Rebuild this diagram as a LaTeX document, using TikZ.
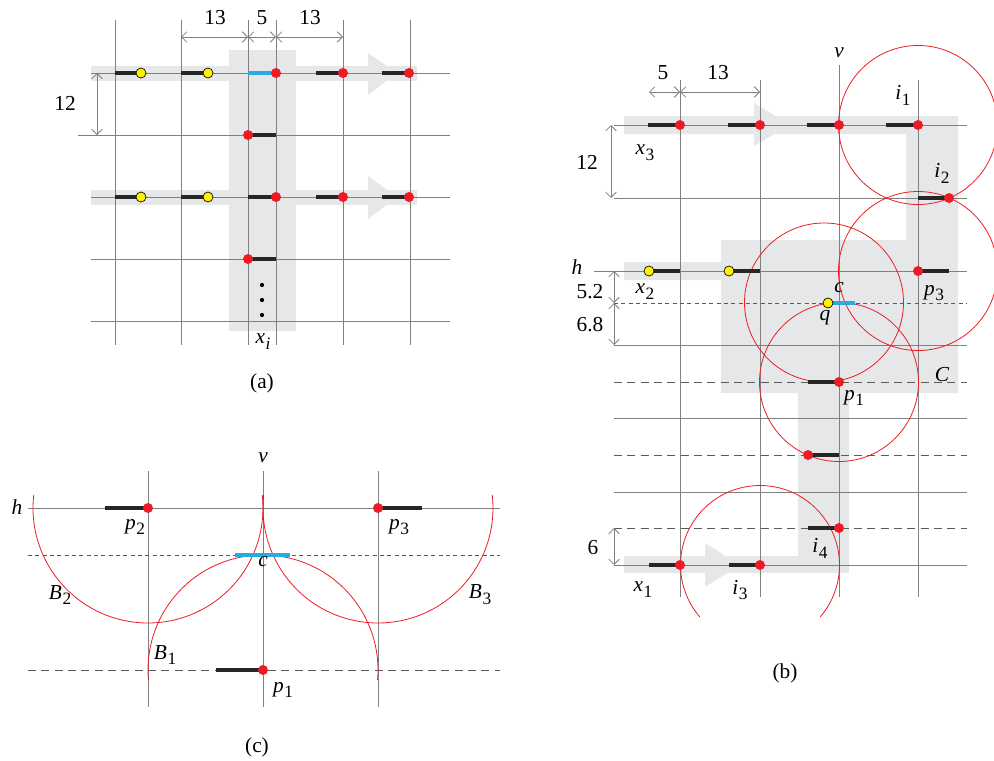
\documentclass[tikz,border=0pt]{standalone}
\usepackage{fontspec}
\setmainfont{Liberation Serif}
\usepackage{xcolor}
\usepackage{tikz}
\usetikzlibrary{arrows.meta}
\definecolor{gridgray}{RGB}{128,128,128}
\definecolor{bandgray}{RGB}{230,231,232}
\definecolor{dotred}{RGB}{237,28,36}
\definecolor{dotyellow}{RGB}{255,242,0}
\definecolor{segblue}{RGB}{41,171,226}
\newcommand{\lbsub}[2]{\textit{#1}\kern0.5pt\raisebox{-0.6ex}{\fontsize{13}{13}\selectfont #2}}

\begin{document}
\begin{tikzpicture}[x=0.75pt,y=0.75pt,yscale=-1,font=\fontsize{16}{19}\selectfont]
\tikzset{grid/.style={draw=gridgray,line width=0.75pt},
 seg/.style={line width=3pt,black!85},
 bseg/.style={line width=3pt,segblue},
 rdot/.style={circle,fill=dotred,inner sep=0pt,minimum size=7.5pt},
 ydot/.style={circle,draw=black,line width=0.5pt,fill=dotyellow,inner sep=0pt,minimum size=7.5pt},
 dim/.style={draw=gridgray,line width=0.6pt,{Straight Barb[length=4pt,width=8pt]}-{Straight Barb[length=4pt,width=8pt]}},
 ring/.style={draw=dotred,line width=0.6pt},
 fine/.style={draw=gridgray!70!black,line width=0.6pt,dash pattern=on 3pt off 2.5pt},
 broken/.style={draw=gridgray!70!black,line width=0.6pt,dash pattern=on 6pt off 4pt}}
\useasboundingbox (0,0) rectangle (994,760);

% ---- (a)
\fill[bandgray] (229,50) rectangle (296,331);
\fill[bandgray] (91,66) rectangle (417,81);
\fill[bandgray] (368,53) -- (397,73) -- (368,95) -- cycle;
\fill[bandgray] (91,190) rectangle (417,205);
\fill[bandgray] (368,176) -- (397,197) -- (368,219) -- cycle;
\foreach \x in {115,181,248,276,343,410} \draw[grid] (\x,20) -- (\x,345);
\foreach \y in {73,197,259,321} \draw[grid] (91,\y) -- (450,\y);
\draw[grid] (78,135) -- (450,135);
\foreach \y in {73,197} {
  \draw[seg] (115,\y) -- (141,\y) (181,\y) -- (208,\y) (316,\y) -- (343,\y) (382,\y) -- (409,\y);
  \node[ydot] (ay1\y) at (141,\y) {};
  \node[ydot] (ay2\y) at (208,\y) {};
  \node[rdot] (ar1\y) at (343,\y) {};
  \node[rdot] (ar2\y) at (409,\y) {};
}
\draw[bseg] (248,73) -- (276,73);
\draw[seg] (248,197) -- (276,197) (248,135) -- (276,135) (248,259) -- (276,259);
\node[rdot] (ar0) at (276,73) {};
\node[rdot] (ar3) at (276,197) {};
\node[rdot] (ar4) at (248,135) {};
\node[rdot] (ar5) at (248,259) {};
\foreach \y in {285,300,315} \fill[black] (262,\y) circle (1.6pt);
\draw[dim] (181,37) -- (248,37);
\draw[dim] (248,37) -- (276,37);
\draw[dim] (276,37) -- (343,37);
\draw[dim] (97,73) -- (97,135);
\node (ad1) at (215,18) {13};
\node (ad2) at (262,18) {5};
\node (ad3) at (310,18) {13};
\node (ad4) at (65,103) {12};
\node (axi) at (263,342) {\lbsub{x}{\textit{i}}};
\node (acap) at (262,383) {(a)};

% ---- (b)
\fill[bandgray] (624,116) rectangle (958,134) (906,116) rectangle (958,240)
  (721,240) rectangle (958,393) (624,262) rectangle (721,280)
  (798,393) rectangle (849,573) (624,556) rectangle (849,573);
\fill[bandgray] (754,103) -- (790,125) -- (754,146) -- cycle;
\fill[bandgray] (705,543) -- (740,565) -- (705,587) -- cycle;
\foreach \x in {680,760,918} \draw[grid] (\x,80) -- (\x,597);
\draw[grid] (839,65) -- (839,597);
\foreach \y in {125,198,345,418,492,565} \draw[grid] (614,\y) -- (967,\y);
\draw[grid] (594,271) -- (967,271);
\draw[fine] (614,303) -- (967,303);
\foreach \y in {382,455,528} \draw[broken] (614,\y) -- (967,\y);
\draw[ring] (918,125) circle (79.5);
\draw[ring] (918,271) circle (79.5);
\draw[ring] (824,302.5) circle (79.5);
\draw[ring] (839,382) circle (79.5);
\draw[ring] (760,565) ++(139.15:79.5) arc[start angle=139.15,end angle=400.85,radius=79.5];
\foreach \x in {680,760,839,918} {
  \draw[seg] (\x-32,125) -- (\x,125);
  \node[rdot] (bt\x) at (\x,125) {};
}
\draw[seg] (918,198) -- (949,198) (649,271) -- (680,271) (729,271) -- (760,271) (918,271) -- (949,271);
\draw[seg] (808,382) -- (839,382) (808,455) -- (839,455) (808,528) -- (839,528);
\draw[seg] (649,565) -- (680,565) (729,565) -- (760,565);
\draw[bseg] (829,303) -- (855,303);
\node[rdot] (bi2) at (949,198) {};
\node[ydot] (bx2) at (649,271) {};
\node[ydot] (by2) at (729,271) {};
\node[rdot] (bp3) at (918,271) {};
\node[ydot] (bq) at (828,303) {};
\node[rdot] (bp1) at (839,382) {};
\node[rdot] (bm) at (808,455) {};
\node[rdot] (bi4) at (839,528) {};
\node[rdot] (bx1) at (680,565) {};
\node[rdot] (bi3) at (760,565) {};
\draw[dim] (649,92) -- (680,92);
\draw[dim] (680,92) -- (760,92);
\draw[dim] (611,125) -- (611,198);
\draw[dim] (614,271) -- (614,303);
\draw[dim] (614,303) -- (614,345);
\draw[dim] (614,528) -- (614,565);
\node (bv) at (839,53) {\textit{v}};
\node (bd1) at (663,73) {5};
\node (bd2) at (718,73) {13};
\node (bd3) at (587,162) {12};
\node (bd4) at (590,292) {5.2};
\node (bd5) at (590,325) {6.8};
\node (bd6) at (593,548) {6};
\node (bli1) at (903,95) {\lbsub{i}{1}};
\node (blx3) at (645,153) {\lbsub{x}{3}};
\node (bli2) at (942,173) {\lbsub{i}{2}};
\node (bh) at (577,267) {\textit{h}};
\node (blx2) at (645,292) {\lbsub{x}{2}};
\node (bc) at (839,288) {\textit{c}};
\node (blq) at (825,318) {\textit{q}};
\node (blp3) at (934,293) {\lbsub{p}{3}};
\node (bC) at (942,375) {\textit{C}};
\node (blp1) at (854,398) {\lbsub{p}{1}};
\node (bli4) at (820,548) {\lbsub{i}{4}};
\node (blx1) at (643,590) {\lbsub{x}{1}};
\node (bli3) at (740,590) {\lbsub{i}{3}};
\node (bcap) at (785,673) {(b)};

% ---- (c)
\foreach \x in {148,263,378} \draw[grid] (\x,471) -- (\x,707);
\draw[grid] (28,508) -- (500,508);
\draw[fine] (28,555) -- (500,555);
\draw[broken] (28,670) -- (500,670);
\draw[ring] (148,508) ++(186.5:115) arc[start angle=186.5,end angle=-6.5,radius=115];
\draw[ring] (378,508) ++(186.5:115) arc[start angle=186.5,end angle=-6.5,radius=115];
\draw[ring] (263,670) ++(175:115) arc[start angle=175,end angle=365,radius=115];
\draw[bseg] (235,555) -- (290,555);
\draw[seg] (105,508) -- (148,508) (378,508) -- (422,508) (216,670) -- (263,670);
\node[rdot] (cp2) at (148,508) {};
\node[rdot] (cp3) at (378,508) {};
\node[rdot] (cp1) at (263,670) {};
\node (cv) at (263,458) {\textit{v}};
\node (ch) at (17,507) {\textit{h}};
\node (clp2) at (135,527) {\lbsub{p}{2}};
\node (clp3) at (399,527) {\lbsub{p}{3}};
\node (cc) at (263,562) {\textit{c}};
\node (clB2) at (60,595) {\lbsub{B}{2}};
\node (clB3) at (480,595) {\lbsub{B}{3}};
\node (clB1) at (165,655) {\lbsub{B}{1}};
\node (clp1) at (283,690) {\lbsub{p}{1}};
\node (ccap) at (257,747) {(c)};
\end{tikzpicture}
\end{document}
